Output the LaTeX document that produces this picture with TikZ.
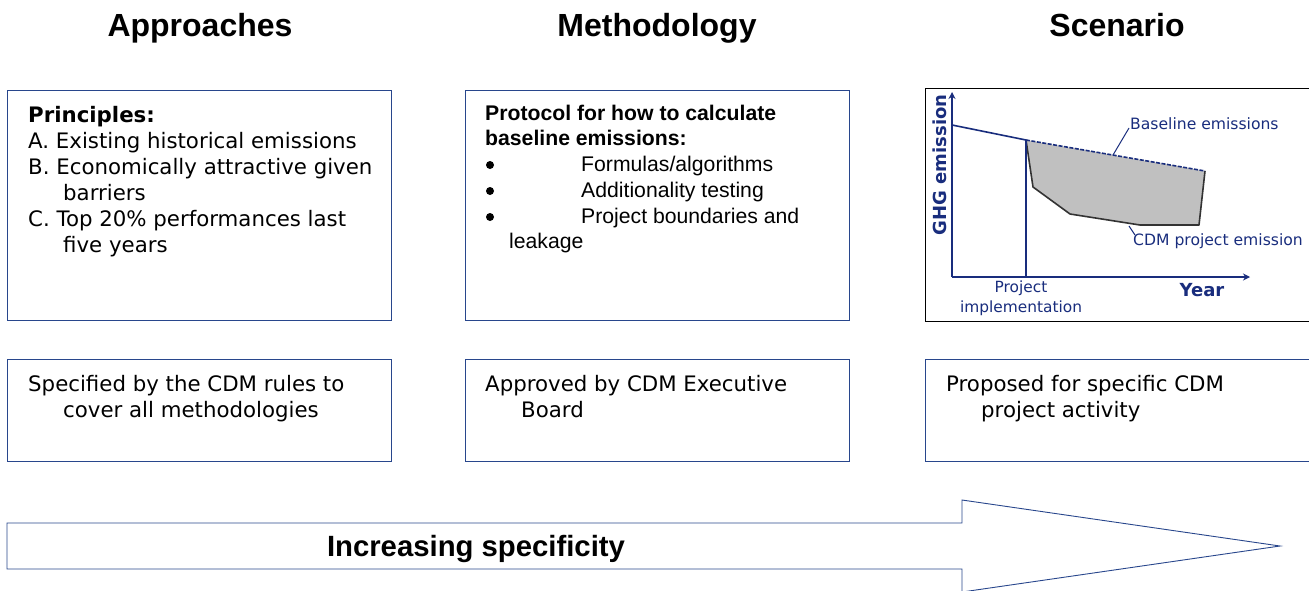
\documentclass[tikz,border=0pt]{standalone}
\usepackage{fontspec}
\setmainfont{DejaVu Sans}
\newfontfamily\arial{Liberation Sans}
\usetikzlibrary{arrows.meta}
\definecolor{navy}{RGB}{25,45,125}
\definecolor{boxblue}{RGB}{40,70,140}
\definecolor{polygray}{RGB}{192,192,192}
\tikzset{
  box/.style={draw=boxblue, line width=0.9pt},
  title/.style={font=\arial\bfseries\fontsize{32}{36}\selectfont, anchor=base},
  body/.style={font=\fontsize{21.3}{24}\selectfont, anchor=base west, inner sep=0pt},
  bodyb/.style={body, font=\bfseries\fontsize{21.3}{24}\selectfont},
  abody/.style={font=\arial\fontsize{21.2}{24}\selectfont, anchor=base west, inner sep=0pt},
  abodyb/.style={abody, font=\arial\bfseries\fontsize{21.2}{24}\selectfont},
  bul/.style={circle, fill=black, inner sep=0pt, minimum size=8pt},
  chart/.style={font=\fontsize{15.6}{18}\selectfont, text=navy, inner sep=0pt},
  chartb/.style={chart, font=\bfseries\fontsize{18}{20}\selectfont},
  axis/.style={navy, line width=2pt, -{Stealth[length=7pt,width=7pt]}},
}
\begin{document}
\begin{tikzpicture}[x=1pt,y=-1pt]
\useasboundingbox (0,0) rectangle (1309,590);
% titles
\node[title] (t1) at (200,36) {Approaches};
\node[title] (t2) at (657,36) {Methodology};
\node[title] (t3) at (1117,36) {Scenario};
% upper boxes
\draw[box] (7,90) rectangle (391,320);
\draw[box] (465,90) rectangle (849,320);
\draw[line width=0.9pt] (925,88) rectangle (1309,321);
% box 1 text
\node[bodyb] (p0) at (28,122.5) {Principles:};
\node[body] (p1) at (28,148.5) {A. Existing historical emissions};
\node[body] (p2) at (28,174.5) {B. Economically attractive given};
\node[body] (p3) at (63,200.5) {barriers};
\node[body] (p4) at (28,226.5) {C. Top 20\% performances last};
\node[body] (p5) at (63,252.5) {five years};
% box 2 text
\node[abodyb] (m0) at (485,120.5) {Protocol for how to calculate};
\node[abodyb] (m1) at (485,145.5) {baseline emissions:};
\node[bul] (b1) at (490,165) {};
\node[abody] (m2) at (581,171.5) {Formulas/algorithms};
\node[bul] (b2) at (490,191) {};
\node[abody] (m3) at (581,197.5) {Additionality testing};
\node[bul] (b3) at (490,217) {};
\node[abody] (m4) at (581,223.5) {Project boundaries and};
\node[abody] (m5) at (509,248.5) {leakage};
% chart
\coordinate (o) at (952,277);
\coordinate (y0) at (952,125);
\coordinate (pi) at (1026,140);
\coordinate (be) at (1205,171);
\coordinate (c1) at (1033,187);
\coordinate (c2) at (1070,214);
\coordinate (c3) at (1140,225);
\coordinate (c4) at (1199,225);
\fill[polygray] (pi) -- (c1) -- (c2) -- (c3) -- (c4) -- (be) -- cycle;
\draw[line width=1.6pt, black!80, line join=round] (pi) -- (c1) -- (c2) -- (c3) -- (c4) -- (be);
\draw[navy, line width=1.6pt, dash pattern=on 4pt off 1.5pt] (pi) -- (be);
\draw[navy, line width=1.6pt] (y0) -- (pi);
\draw[navy, line width=1.3pt] (pi) -- (1026,277);
\draw[axis] (o) -- (952,92);
\draw[axis] (o) -- (1250,277);
\node[chart, anchor=base west] (bl) at (1130,129.5) {Baseline emissions};
\node[chart, anchor=base west] (cp) at (1133,245.5) {CDM project emission};
\draw[navy, line width=1pt] (1129,128) -- (1113,155);
\draw[navy, line width=1pt] (1129,226) -- (1135,235);
\node[chartb, rotate=90] (ghg) at (940,165) {GHG emission};
\node[chart, align=center, font=\fontsize{15.4}{20}\selectfont] (pim) at (1021,298) {Project\\implementation};
\node[chartb] (yr) at (1202,290) {Year};
% lower boxes
\draw[box] (7,359) rectangle (391,461);
\draw[box] (465,359) rectangle (849,461);
\draw[box] (925,359) rectangle (1309,461);
\node[body] (l1) at (28,391.5) {Specified by the CDM rules to};
\node[body] (l2) at (63,417.5) {cover all methodologies};
\node[body] (l3) at (485,391.5) {Approved by CDM Executive};
\node[body] (l4) at (521,417.5) {Board};
\node[body] (l5) at (946,391.5) {Proposed for specific CDM};
\node[body] (l6) at (981,417.5) {project activity};
% big arrow
\draw[box] (7,523) -- (962,523) -- (962,500) -- (1280,546) -- (962,592) -- (962,569) -- (7,569) -- cycle;
\node[font=\arial\bfseries\fontsize{29.3}{32}\selectfont, anchor=base] (inc) at (476,556.5) {Increasing specificity};
\end{tikzpicture}
\end{document}
